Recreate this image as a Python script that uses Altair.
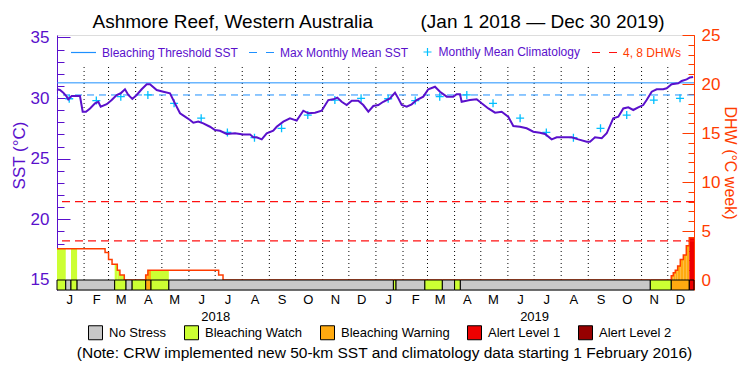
import altair as alt
import pandas as pd

# ---------------- data ----------------
START_YEAR = 2018
N_DAYS = 729  # Jan 1 2018 .. Dec 30 2019

TITLE_LEFT = "Ashmore Reef, Western Australia"
TITLE_RIGHT = "(Jan 1 2018 \u2014 Dec 30 2019)"
NOTE = "(Note: CRW implemented new 50-km SST and climatology data starting 1 February 2016)"
SST_TITLE = "SST (\u00b0C)"
DHW_TITLE = "DHW (\u00b0C week)"

# daily SST (day index from Jan 1 2018, deg C)
sst_day = [0, 3.4, 7.2, 11.1, 12.9, 16.8, 26.3, 29.4, 33.2, 37.8,
           43.5, 47.3, 50, 56.9, 62.6, 68.3, 72.9, 77.8, 81.6, 86.2,
           91.2, 96.9, 102.7, 106.4, 114.1, 121.7, 129.3, 135, 140.8, 146.5,
           152.2, 156, 161.7, 167.4, 175.1, 180.8, 186.5, 194.2, 203.7, 213.2,
           220.9, 224.6, 228.5, 234.3, 240, 247.5, 251.4, 259, 266.6, 274.3,
           281.9, 287.6, 295.3, 302.9, 310.5, 316.2, 320.8, 325.8, 331.5, 337.3,
           344.8, 350.5, 356.3, 362, 367.7, 373.4, 381.1, 386.8, 390.6, 394.5,
           400.2, 405.9, 411.6, 419.2, 424.9, 432.6, 438.3, 446, 453.5, 457.4,
           461.2, 463.1, 472.6, 480.3, 486, 493.6, 501.3, 508.9, 516.4, 522.2,
           529.8, 537.5, 545.1, 552.7, 558.5, 566.1, 571.9, 589, 596.6, 606.2,
           610, 615.7, 623.4, 629.1, 636.6, 642.4, 648.1, 653.8, 659.5, 665.2,
           670.9, 674.8, 680.6, 686.3, 693.8, 697.7, 703.4, 711, 714.9, 720.6,
           724.4, 728]
sst_val = [30.73, 30.67, 30.45, 30.12, 29.9, 30.17, 30.17, 28.88, 28.88, 29.15,
           29.57, 29.7, 29.29, 29.5, 29.84, 30.26, 30.4, 30.73, 30.26, 29.93,
           30.26, 30.73, 31.14, 31.14, 30.67, 30.53, 30.4, 29.57, 28.75, 28.47,
           28.2, 27.97, 28.06, 27.92, 27.64, 27.37, 27.31, 27.04, 27.1, 27.01,
           27.01, 26.77, 26.77, 26.6, 27.1, 27.31, 27.64, 28.06, 28.33, 28.14,
           28.96, 28.75, 28.8, 28.96, 29.84, 29.9, 30.04, 29.7, 29.43, 29.79,
           29.79, 29.43, 28.88, 29.35, 29.43, 29.7, 29.98, 30.45, 29.98, 29.43,
           29.29, 29.49, 29.84, 30.12, 30.73, 30.94, 30.53, 30.12, 30.12, 30.32,
           30.32, 29.7, 29.84, 29.9, 29.57, 29.15, 28.8, 28.88, 28.47, 27.7,
           27.64, 27.51, 27.23, 27.15, 27.04, 26.6, 26.77, 26.77, 26.6, 26.41,
           26.41, 26.77, 26.69, 27.1, 28.33, 28.47, 29.15, 29.24, 29.02, 29.24,
           29.43, 29.84, 30.53, 30.73, 30.73, 30.81, 31.14, 31.22, 31.41, 31.55,
           31.71, 31.75]

# monthly mean climatology, Jan..Dec
clim_vals = [29.95, 29.8, 30.12, 30.26, 29.57, 28.35, 27.17, 26.74, 27.51, 28.6, 29.84, 29.98]
MMM = 30.26          # max monthly mean
THRESHOLD = 31.26    # bleaching threshold (MMM + 1)

# degree heating weeks, step changes (day index, DHW)
dhw_day = [0, 55, 59, 63, 69, 72, 77, 101.5, 104, 185, 190,
           703, 705.3, 707.6, 710.3, 713.3, 716.8, 720.2, 723.6]
dhw_val = [3.2, 2.8, 2.1, 1.6, 1.0, 0.5, 0, 0.5, 1.0, 0.5, 0,
           0.44, 0.75, 1.0, 1.43, 2.1, 2.55, 3.5, 4.3]
dhw_lines = [4, 8]

# stress level periods (start day index, status)
status_start = [0, 10, 16, 23, 66, 79, 86, 101.5, 107.6, 128,
                385, 388, 421, 441, 455, 461.6, 679, 703, 723.6]
status_name = ["Bleaching Watch", "No Stress", "Bleaching Watch", "No Stress",
               "Bleaching Watch", "No Stress", "Bleaching Watch", "Bleaching Warning",
               "Bleaching Watch", "No Stress", "Bleaching Watch", "No Stress",
               "Bleaching Watch", "No Stress", "Bleaching Watch", "No Stress",
               "Bleaching Watch", "Bleaching Warning", "Alert Level 1"]
status_levels = ["No Stress", "Bleaching Watch", "Bleaching Warning", "Alert Level 1", "Alert Level 2"]
status_colors = ["#c8c8c8", "#ccff33", "#ffaa10", "#ee0000", "#960000"]

# ---------------- styling ----------------
FONT = "Liberation Sans"
PURPLE = "#5a10cc"
BLUE = "#1e90ff"
CYAN = "#00bfff"
ORANGE = "#ff3c00"
RED = "#ff1010"
W, H = 637, 255
SST_MIN, SST_MAX = 14.175, 35.206
DHW_MIN, DHW_MAX = -1.02, 25
GRID_TOP = 32.8

# ---------------- derived tables ----------------
start = pd.Timestamp(START_YEAR, 1, 1)
months = pd.date_range(start, periods=24, freq="MS")
month_start_days = [(m - start).days for m in months[1:]]
mid_days = [(m - start).days + 14 for m in months]
year_days = [(pd.Timestamp(y, 7, 1) - start).days for y in (START_YEAR, START_YEAR + 1)]


def step_at(days, vals, d):
    v = vals[0]
    for dd, vv in zip(days, vals):
        if dd <= d:
            v = vv
    return v


sst_df = pd.DataFrame({"day": sst_day, "sst": sst_val})
clim_df = pd.DataFrame({"day": mid_days, "sst": clim_vals * 2, "lbl": "Monthly Mean Climatology"})
grid_df = pd.DataFrame({"day": month_start_days})
thr_df = pd.DataFrame({"sst": [THRESHOLD], "lbl": ["Bleaching Threshold SST"]})
mmm_df = pd.DataFrame({"sst": [MMM], "lbl": ["Max Monthly Mean SST"]})
dhwl_df = pd.DataFrame({"dhw": dhw_lines, "lbl": "4, 8 DHWs"})
dhw_df = pd.DataFrame({"day": dhw_day + [N_DAYS], "dhw": dhw_val + [dhw_val[-1]]})
status_end = status_start[1:] + [N_DAYS]
status_df = pd.DataFrame({"s": status_start, "e": status_end, "status": status_name})

bps = sorted(set(dhw_day + status_start + [N_DAYS]))
fill_rows = []
for a, b in zip(bps[:-1], bps[1:]):
    v = step_at(dhw_day, dhw_val, a)
    s = step_at(status_start, status_name, a)
    if v > 0 and s != "No Stress":
        fill_rows.append({"s": a, "e": b, "dhw": v, "status": s})
fill_df = pd.DataFrame(fill_rows)

# ---------------- scales / helpers ----------------
XS = alt.Scale(domain=[0, N_DAYS], nice=False, zero=False)
SS = alt.Scale(domain=[SST_MIN, SST_MAX], nice=False, zero=False)
DS = alt.Scale(domain=[DHW_MIN, DHW_MAX], nice=False, zero=False)
STATUS = alt.Scale(domain=status_levels, range=status_colors)

TOP_Y = 4


def top_legend(x, sym, color=PURPLE, dash=None, size=625, y=TOP_Y):
    kw = dict(orient="none", legendX=x, legendY=y, title=None, symbolType=sym,
              symbolSize=size, symbolStrokeWidth=1.2, labelColor=color, labelFontSize=12,
              labelFont=FONT, labelOffset=5, padding=0)
    if dash:
        kw["symbolDash"] = dash
    return alt.Legend(**kw)


def inward(orient, values, size, color):
    return alt.Axis(orient=orient, offset=-W, values=values, tickSize=size, tickColor=color,
                    tickWidth=1, labels=False, domain=False, title=None, grid=False)


PLUS = "M-0.8,0H0.8M0,-0.8V0.8"

grid = alt.Chart(grid_df).mark_rule(color="black", strokeDash=[1, 3], strokeWidth=1).encode(
    x=alt.X("day:Q", scale=XS, axis=None),
    y=alt.YDatum(15, scale=SS, axis=None, type="quantitative"),
    y2=alt.Y2Datum(GRID_TOP),
)

fill = alt.Chart(fill_df).mark_rect(strokeWidth=0).encode(
    x=alt.X("s:Q", scale=XS, axis=None),
    x2="e:Q",
    y=alt.Y("dhw:Q", scale=DS, axis=inward("left", list(range(0, 26)), 6, ORANGE)),
    y2=alt.Y2Datum(0),
    color=alt.Color("status:N", scale=STATUS, legend=None),
)

dhw_rules = alt.Chart(dhwl_df).mark_rule(strokeDash=[8, 5], strokeWidth=1.2).encode(
    y=alt.Y("dhw:Q", scale=DS, axis=inward("left", list(range(0, 26, 5)), 12, ORANGE)),
    color=alt.Color("lbl:N", scale=alt.Scale(domain=["4, 8 DHWs"], range=[RED]),
                    legend=top_legend(534, "stroke", color=ORANGE, dash=[8, 9])),
)

mmm = alt.Chart(mmm_df).mark_rule(strokeDash=[7, 5], strokeWidth=1).encode(
    y=alt.Y("sst:Q", scale=SS, axis=None),
    color=alt.Color("lbl:N", scale=alt.Scale(domain=["Max Monthly Mean SST"], range=[BLUE]),
                    legend=top_legend(191, "stroke", dash=[8, 9])),
)

thr = alt.Chart(thr_df).mark_rule(strokeWidth=1).encode(
    y=alt.Y("sst:Q", scale=SS, axis=inward("right", list(range(15, 36)), 7, PURPLE)),
    color=alt.Color("lbl:N", scale=alt.Scale(domain=["Bleaching Threshold SST"], range=[BLUE]),
                    legend=top_legend(13, "stroke")),
)

clim = alt.Chart(clim_df).mark_point(shape=PLUS, filled=False, size=100, strokeWidth=1.3, opacity=1).encode(
    x=alt.X("day:Q", scale=XS, axis=alt.Axis(
        orient="bottom", values=year_days, ticks=False, domain=False, grid=False,
        labelExpr="timeFormat(datetime(%d,0,1+datum.value),'%%Y')" % START_YEAR,
        labelPadding=20, labelFontSize=13, labelColor="black", labelFont=FONT,
        labelFlush=False, labelOverlap=False,
        title=NOTE, titleFontSize=15.5, titleFontWeight="normal", titleColor="black",
        titleFont=FONT, titlePadding=22, titleX=327)),
    y=alt.Y("sst:Q", scale=SS, axis=inward("right", list(range(15, 36, 5)), 13, PURPLE)),
    color=alt.Color("lbl:N", scale=alt.Scale(domain=["Monthly Mean Climatology"], range=[CYAN]),
                    legend=top_legend(364.5, PLUS, size=100, y=TOP_Y + 7)),
)

sst = alt.Chart(sst_df).mark_line(color=PURPLE, strokeWidth=2).encode(
    x=alt.X("day:Q", scale=XS, axis=alt.Axis(
        orient="bottom", values=mid_days, ticks=False, domain=False, grid=False,
        labelExpr="substring(timeFormat(datetime(%d,0,1+datum.value),'%%b'),0,1)" % START_YEAR,
        labelPadding=3, labelFontSize=13, labelColor="black", labelFont=FONT,
        labelFlush=False, labelOverlap=False, title=None)),
    y=alt.Y("sst:Q", scale=SS, axis=alt.Axis(
        orient="left", values=list(range(15, 36, 5)), ticks=False, tickSize=0,
        domainColor=PURPLE, domainWidth=1, labelColor=PURPLE, labelFontSize=17,
        labelFont=FONT, labelPadding=8, grid=False,
        title=SST_TITLE, titleColor=PURPLE, titleFontSize=17, titleFontWeight="normal",
        titleFont=FONT, titlePadding=2, titleY=120)),
)

dhw_line = alt.Chart(dhw_df).mark_line(interpolate="step-after", color=ORANGE, strokeWidth=1.5).encode(
    x=alt.X("day:Q", scale=XS, axis=None),
    y=alt.Y("dhw:Q", scale=DS, axis=alt.Axis(
        orient="right", values=list(range(0, 26, 5)), ticks=False, tickSize=0,
        domainColor=ORANGE, domainWidth=1, labelColor=ORANGE, labelFontSize=17,
        labelFont=FONT, labelPadding=7, grid=False,
        title=DHW_TITLE, titleColor=ORANGE, titleFontSize=16, titleFontWeight="normal",
        titleFont=FONT, titlePadding=2)),
)

bar = alt.Chart(status_df).mark_rect(stroke="black", strokeWidth=1).encode(
    x=alt.X("s:Q", scale=XS, axis=None),
    x2="e:Q",
    y=alt.YDatum(DHW_MIN, scale=DS, axis=None, type="quantitative"),
    y2=alt.Y2Datum(0),
    color=alt.Color("status:N", scale=STATUS, legend=alt.Legend(
        orient="none", legendX=31, legendY=290, direction="horizontal", title=None,
        symbolType="square", symbolSize=196, symbolStrokeColor="black", symbolStrokeWidth=1,
        symbolOpacity=1, labelFontSize=13, labelFont=FONT, labelOffset=6, columnPadding=15,
        padding=0, values=status_levels)),
)

chart = alt.layer(grid, fill, dhw_rules, mmm, thr, clim, sst, dhw_line, bar).resolve_scale(
    x="independent", y="independent", color="independent"
).properties(
    width=W, height=H,
    title=alt.Title(TITLE_LEFT + "\u00a0" * 9 + TITLE_RIGHT, fontSize=19, fontWeight="normal",
                    font=FONT, color="black", anchor="middle", offset=8, dy=14, dx=3),
    padding={"left": 49, "top": 27, "right": 48, "bottom": 77},
    autosize=alt.AutoSizeParams(type="none"),
).configure_view(stroke="black", strokeWidth=1).configure(background="white")

chart.save("out.html", embed_options={"renderer": "svg", "actions": False})
